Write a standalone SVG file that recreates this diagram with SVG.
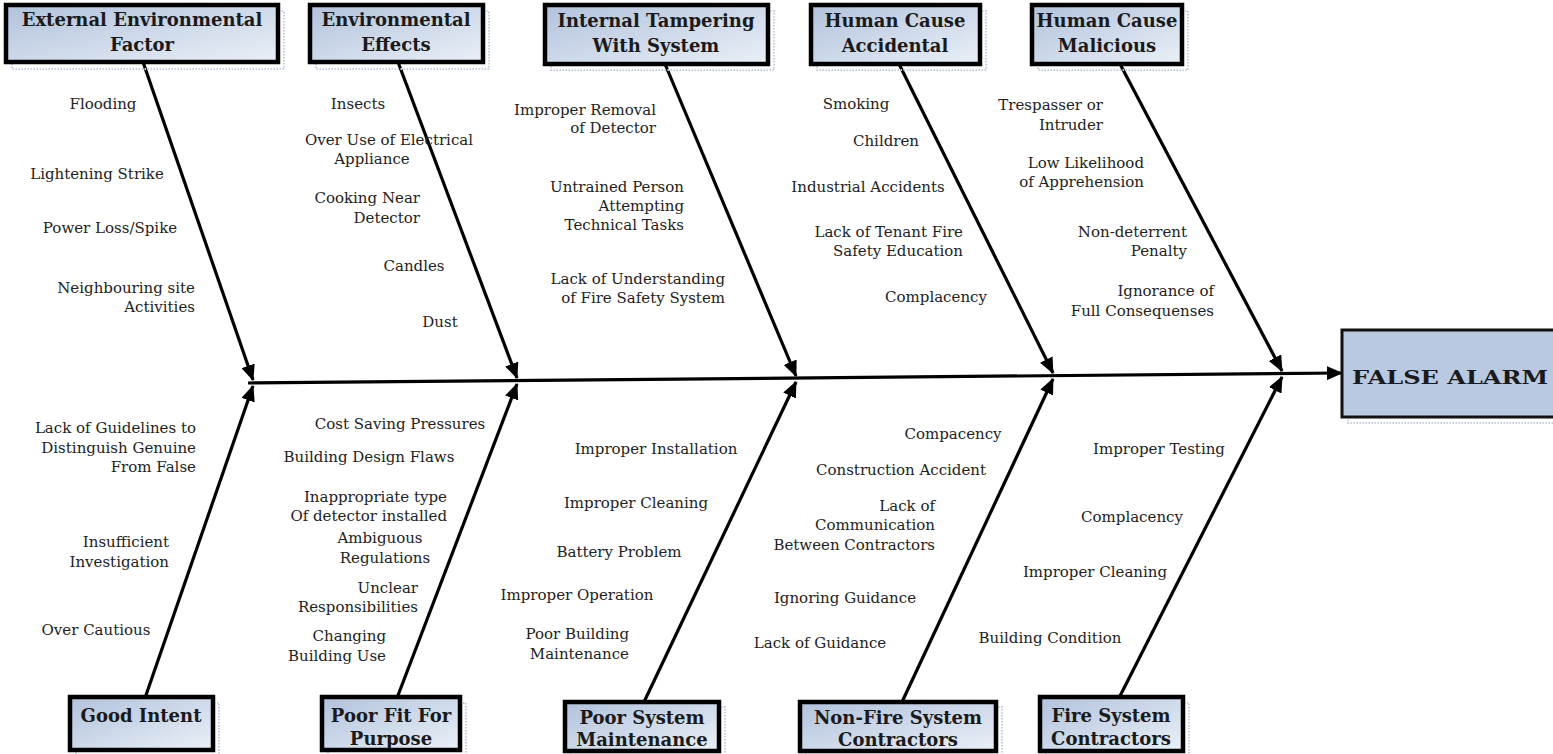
<svg xmlns="http://www.w3.org/2000/svg" width="1553" height="754" viewBox="0 0 1553 754">
<defs>
<linearGradient id="bg" x1="0" y1="0" x2="1" y2="1">
<stop offset="0" stop-color="#b1c2dc"/>
<stop offset="1" stop-color="#eaf0f7"/>
</linearGradient>
<marker id="ah" markerUnits="userSpaceOnUse" markerWidth="16" markerHeight="14" refX="15" refY="7" orient="auto">
<path d="M0,0 L16,7 L0,14 z" fill="#000"/>
</marker>
<style>
.box{fill:url(#bg);stroke:#000;stroke-width:4.5}
.sh{fill:none;stroke:#c3cde3;stroke-width:2;stroke-dasharray:1.5 1.5}
.t{font-family:"DejaVu Serif","Liberation Serif",serif;font-weight:bold;font-size:18px;fill:#1a1a1a;text-anchor:middle}
.l{font-family:"DejaVu Serif","Liberation Serif",serif;font-size:15px;fill:#222}
.m{text-anchor:middle}
.e{text-anchor:end}
.c{stroke:#000;stroke-width:3.2;fill:none;marker-end:url(#ah)}
</style>
</defs>
<rect width="1553" height="754" fill="#fff"/>

<g id="connectors">
<line class="c" x1="248" y1="383" x2="1342" y2="373"/>
<line class="c" x1="143" y1="62" x2="253" y2="380"/>
<line class="c" x1="398" y1="62" x2="517" y2="378"/>
<line class="c" x1="665" y1="64" x2="796" y2="376"/>
<line class="c" x1="899" y1="64" x2="1053" y2="373"/>
<line class="c" x1="1120" y1="64" x2="1282" y2="371"/>
<line class="c" x1="145" y1="698" x2="253" y2="386"/>
<line class="c" x1="397" y1="698" x2="517" y2="384"/>
<line class="c" x1="644" y1="702" x2="796" y2="382"/>
<line class="c" x1="902" y1="702" x2="1053" y2="379"/>
<line class="c" x1="1119" y1="698" x2="1282" y2="377"/>
</g>

<g id="n-external">
<rect class="sh" x="12" y="11" width="272" height="58"/>
<rect class="box" x="6" y="5" width="272" height="57"/>
<text class="t" x="142" y="26">External Environmental</text>
<text class="t" x="142" y="51">Factor</text>
</g>
<g id="n-enveffects">
<rect class="sh" x="316" y="11" width="173" height="58"/>
<rect class="box" x="310" y="5" width="173" height="57"/>
<text class="t" x="396" y="26">Environmental</text>
<text class="t" x="396" y="51">Effects</text>
</g>
<g id="n-tampering">
<rect class="sh" x="551" y="11" width="223" height="59"/>
<rect class="box" x="545" y="5" width="223" height="59"/>
<text class="t" x="656" y="27">Internal Tampering</text>
<text class="t" x="656" y="52">With System</text>
</g>
<g id="n-accidental">
<rect class="sh" x="817" y="11" width="169" height="59"/>
<rect class="box" x="811" y="5" width="169" height="59"/>
<text class="t" x="895" y="27">Human Cause</text>
<text class="t" x="895" y="52">Accidental</text>
</g>
<g id="n-malicious">
<rect class="sh" x="1038" y="11" width="150" height="59"/>
<rect class="box" x="1032" y="5" width="150" height="59"/>
<text class="t" x="1107" y="27">Human Cause</text>
<text class="t" x="1107" y="52">Malicious</text>
</g>

<g id="n-goodintent">
<rect class="sh" x="76" y="703" width="143" height="52"/>
<rect class="box" x="70" y="697" width="143" height="53"/>
<text class="t" x="141" y="722">Good Intent</text>
</g>
<g id="n-poorfit">
<rect class="sh" x="328" y="703" width="138" height="52"/>
<rect class="box" x="322" y="697" width="138" height="53"/>
<text class="t" x="391" y="722">Poor Fit For</text>
<text class="t" x="391" y="745">Purpose</text>
</g>
<g id="n-maintenance">
<rect class="sh" x="571" y="707" width="154" height="50"/>
<rect class="box" x="565" y="702" width="154" height="49"/>
<text class="t" x="642" y="724">Poor System</text>
<text class="t" x="642" y="746">Maintenance</text>
</g>
<g id="n-nonfire">
<rect class="sh" x="806" y="707" width="196" height="50"/>
<rect class="box" x="800" y="702" width="196" height="49"/>
<text class="t" x="898" y="724">Non-Fire System</text>
<text class="t" x="898" y="746">Contractors</text>
</g>
<g id="n-firesys">
<rect class="sh" x="1046" y="703" width="143" height="52"/>
<rect class="box" x="1040" y="697" width="143" height="54"/>
<text class="t" x="1111" y="722">Fire System</text>
<text class="t" x="1111" y="745">Contractors</text>
</g>

<g id="n-falsealarm">
<rect class="sh" x="1348" y="336" width="215" height="87"/>
<rect x="1342" y="330" width="215" height="87" fill="#b9c9e1" stroke="#111" stroke-width="3"/>
<text class="t" x="1450" y="384" font-size="19" textLength="196" lengthAdjust="spacingAndGlyphs">FALSE ALARM</text>
</g>

<g id="labels-external">
<text class="l m" x="103" y="109">Flooding</text>
<text class="l m" x="97" y="179">Lightening Strike</text>
<text class="l m" x="110" y="233">Power Loss/Spike</text>
<text class="l e" x="195" y="293">Neighbouring site</text>
<text class="l e" x="195" y="312">Activities</text>
</g>
<g id="labels-enveffects">
<text class="l m" x="358" y="109">Insects</text>
<text class="l m" x="389" y="145">Over Use of Electrical</text>
<text class="l m" x="372" y="164">Appliance</text>
<text class="l e" x="420" y="203">Cooking Near</text>
<text class="l e" x="420" y="223">Detector</text>
<text class="l m" x="414" y="271">Candles</text>
<text class="l m" x="440" y="327">Dust</text>
</g>
<g id="labels-tampering">
<text class="l e" x="656" y="115">Improper Removal</text>
<text class="l e" x="656" y="133">of Detector</text>
<text class="l e" x="684" y="192">Untrained Person</text>
<text class="l e" x="684" y="211">Attempting</text>
<text class="l e" x="684" y="230">Technical Tasks</text>
<text class="l e" x="725" y="284">Lack of Understanding</text>
<text class="l e" x="725" y="303">of Fire Safety System</text>
</g>
<g id="labels-accidental">
<text class="l m" x="856" y="109">Smoking</text>
<text class="l m" x="886" y="146">Children</text>
<text class="l m" x="868" y="192">Industrial Accidents</text>
<text class="l e" x="963" y="237">Lack of Tenant Fire</text>
<text class="l e" x="963" y="256">Safety Education</text>
<text class="l m" x="936" y="302">Complacency</text>
</g>
<g id="labels-malicious">
<text class="l e" x="1103" y="110">Trespasser or</text>
<text class="l e" x="1103" y="130">Intruder</text>
<text class="l e" x="1144" y="168">Low Likelihood</text>
<text class="l e" x="1144" y="187">of Apprehension</text>
<text class="l e" x="1187" y="237">Non-deterrent</text>
<text class="l e" x="1187" y="256">Penalty</text>
<text class="l e" x="1214" y="296">Ignorance of</text>
<text class="l e" x="1214" y="316">Full Consequenses</text>
</g>
<g id="labels-goodintent">
<text class="l e" x="196" y="433">Lack of Guidelines to</text>
<text class="l e" x="196" y="453">Distinguish Genuine</text>
<text class="l e" x="196" y="472">From False</text>
<text class="l e" x="169" y="547">Insufficient</text>
<text class="l e" x="169" y="567">Investigation</text>
<text class="l m" x="96" y="635">Over Cautious</text>
</g>
<g id="labels-poorfit">
<text class="l m" x="400" y="429">Cost Saving Pressures</text>
<text class="l m" x="369" y="462">Building Design Flaws</text>
<text class="l e" x="447" y="502">Inappropriate type</text>
<text class="l e" x="447" y="521">Of detector installed</text>
<text class="l m" x="380" y="543">Ambiguous</text>
<text class="l m" x="385" y="563">Regulations</text>
<text class="l e" x="418" y="593">Unclear</text>
<text class="l e" x="418" y="612">Responsibilities</text>
<text class="l e" x="386" y="641">Changing</text>
<text class="l e" x="386" y="661">Building Use</text>
</g>
<g id="labels-maintenance">
<text class="l m" x="656" y="454">Improper Installation</text>
<text class="l m" x="636" y="508">Improper Cleaning</text>
<text class="l m" x="619" y="557">Battery Problem</text>
<text class="l m" x="577" y="600">Improper Operation</text>
<text class="l e" x="629" y="639">Poor Building</text>
<text class="l e" x="629" y="659">Maintenance</text>
</g>
<g id="labels-nonfire">
<text class="l m" x="953" y="439">Compacency</text>
<text class="l m" x="901" y="475">Construction Accident</text>
<text class="l e" x="935" y="511">Lack of</text>
<text class="l e" x="935" y="530">Communication</text>
<text class="l e" x="935" y="550">Between Contractors</text>
<text class="l m" x="845" y="603">Ignoring Guidance</text>
<text class="l m" x="820" y="648">Lack of Guidance</text>
</g>
<g id="labels-firesys">
<text class="l m" x="1159" y="454">Improper Testing</text>
<text class="l m" x="1132" y="522">Complacency</text>
<text class="l m" x="1095" y="577">Improper Cleaning</text>
<text class="l m" x="1050" y="643">Building Condition</text>
</g>
</svg>
